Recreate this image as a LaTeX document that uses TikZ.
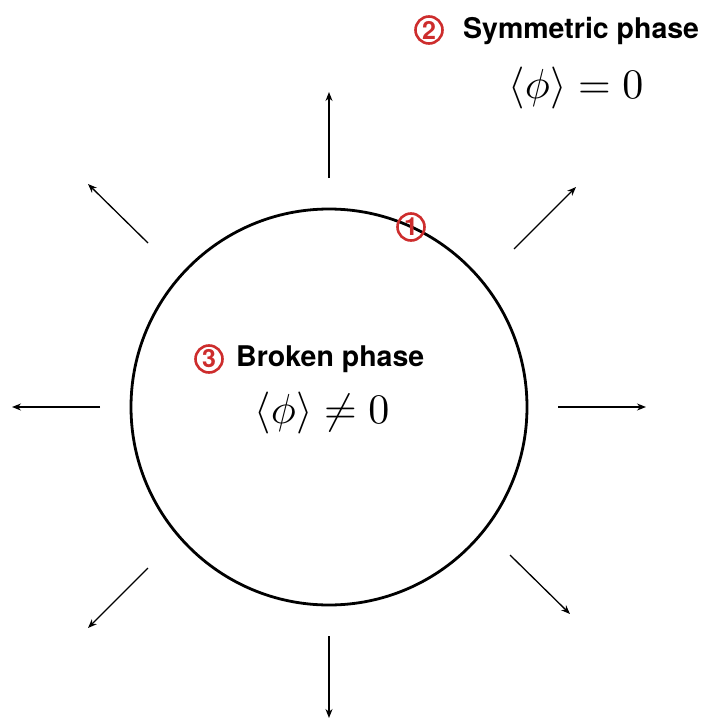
\documentclass[tikz,border=0pt]{standalone}
\usepackage{fontspec}
\setsansfont{TeX Gyre Heros}
\usetikzlibrary{arrows.meta}
\definecolor{numred}{RGB}{205,45,45}
\begin{document}
\begin{tikzpicture}[x=1pt,y=-1pt,
  ray/.style={line width=1.3pt,-{Stealth[length=9pt,width=7pt]}},
  label/.style={font=\sffamily\bfseries\fontsize{28.5}{30}\selectfont,inner sep=0pt,anchor=west},
  num/.style={circle,draw=numred,line width=2.6pt,minimum size=27pt,inner sep=0pt,
    font=\sffamily\bfseries\fontsize{25}{25}\selectfont,text=numred},
  formula/.style={scale=4.2,inner sep=0pt}]
\useasboundingbox (0,0) rectangle (703,720);
\node[draw,circle,line width=2.8pt,minimum size=396pt,inner sep=0pt] (c) at (329,407) {};
% rays
\coordinate (u0) at (329,178); \coordinate (u1) at (329,92);
\coordinate (d0) at (329,636); \coordinate (d1) at (329,718);
\coordinate (r0) at (558,407); \coordinate (r1) at (646,407);
\coordinate (l0) at (100,407); \coordinate (l1) at (12,407);
\coordinate (ne0) at (514,249); \coordinate (ne1) at (576,187);
\coordinate (nw0) at (148,243); \coordinate (nw1) at (88,184);
\coordinate (sw0) at (148,568); \coordinate (sw1) at (88,628);
\coordinate (se0) at (510,555); \coordinate (se1) at (570,614);
\draw[ray] (u0) -- (u1);
\draw[ray] (d0) -- (d1);
\draw[ray] (r0) -- (r1);
\draw[ray] (l0) -- (l1);
\draw[ray] (ne0) -- (ne1);
\draw[ray] (nw0) -- (nw1);
\draw[ray] (sw0) -- (sw1);
\draw[ray] (se0) -- (se1);
% labels
\node[num] (n1) at (411,227) {1};
\node[num] (n2) at (429,30) {2};
\node[label] (sym) at (463,31) {Symmetric phase};
\node[formula] (f1) at (576,88) {$\langle\phi\rangle = 0$};
\node[num] (n3) at (209,359) {3};
\node[label] (brk) at (236,359) {Broken phase};
\node[formula] (f2) at (322,413) {$\langle\phi\rangle \neq 0$};
\end{tikzpicture}
\end{document}
